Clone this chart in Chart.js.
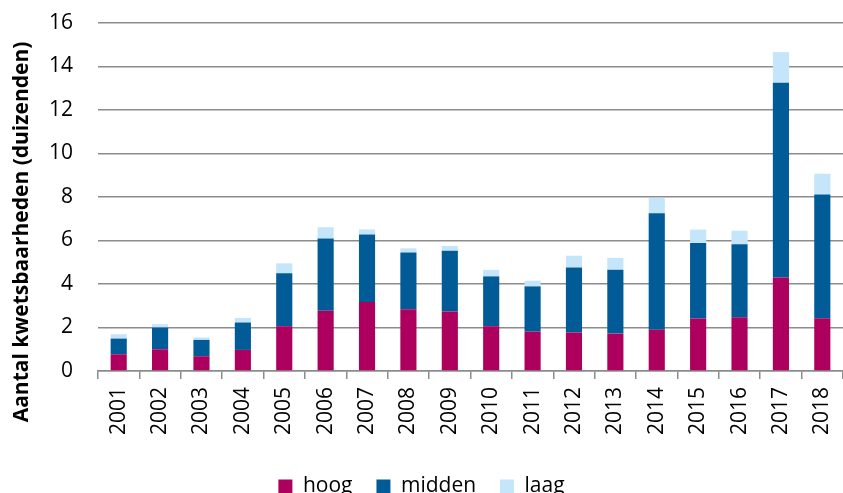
<!DOCTYPE html>
<html>
<head>
<meta charset="utf-8">
<script src="https://cdn.jsdelivr.net/npm/chart.js@4/dist/chart.umd.min.js"></script>
<style>
  html, body { margin: 0; padding: 0; background: #fff; }
  #wrap { width: 843px; height: 493px; }
</style>
</head>
<body>
<div id="wrap"><canvas id="myChart"></canvas></div>
<script>
// data (duizenden)
var years = ['2001','2002','2003','2004','2005','2006','2007','2008','2009',
             '2010','2011','2012','2013','2014','2015','2016','2017','2018'];
var hoog   = [0.77, 1.00, 0.68, 0.97, 2.06, 2.77, 3.17, 2.84, 2.73, 2.06, 1.81, 1.77, 1.72, 1.90, 2.41, 2.47, 4.30, 2.43];
var midden = [0.72, 1.00, 0.75, 1.26, 2.43, 3.32, 3.11, 2.61, 2.80, 2.29, 2.08, 2.99, 2.94, 5.35, 3.48, 3.36, 8.95, 5.68];
var laag   = [0.20, 0.15, 0.11, 0.21, 0.46, 0.52, 0.23, 0.19, 0.22, 0.30, 0.26, 0.54, 0.54, 0.70, 0.61, 0.62, 1.41, 0.96];
var yTicks = [0, 2, 4, 6, 8, 10, 12, 14, 16];
var yTitle = 'Aantal kwetsbaarheden (duizenden)';

var font = '"Open Sans", sans-serif';
var grey = '#8c8c8c';

// y title sits a bit lower than the axis centre in the original, so draw it by hand
var titlePlugin = {
    id: 'ytitle',
    afterDraw: function(c){
        var g = c.ctx;
        g.save();
        g.translate(22, 232);
        g.rotate(-Math.PI / 2);
        g.font = 'bold 21px ' + font;
        g.fillStyle = '#000';
        g.textAlign = 'center';
        g.textBaseline = 'middle';
        g.fillText(yTitle, 0, 0);
        g.restore();
    }
};

var ctx = document.getElementById('myChart');
var chart = new Chart(ctx, {
    type: 'bar',
    data: {
        labels: years,
        datasets: [
            { label: 'hoog',   data: hoog,   backgroundColor: '#ad005e' },
            { label: 'midden', data: midden, backgroundColor: '#005b96' },
            { label: 'laag',   data: laag,   backgroundColor: '#c4e5fa' }
        ]
    },
    plugins: [titlePlugin],
    options: {
        responsive: true,
        maintainAspectRatio: false,
        animation: false,
        categoryPercentage: 1,
        barPercentage: 0.39,
        layout: { padding: { top: 23, right: 0, left: 0, bottom: -14 } },
        plugins: {
            tooltip: { enabled: false },
            legend: {
                position: 'bottom',
                labels: {
                    boxWidth: 14, boxHeight: 14, padding: 24,
                    color: '#000',
                    font: { family: font, size: 21 }
                }
            }
        },
        scales: {
            x: {
                stacked: true,
                offset: true,
                grid: { display: true, drawOnChartArea: false, drawTicks: true, tickLength: 8, offset: true, color: grey, lineWidth: 1.5 },
                border: { display: true, color: grey, width: 1.5 },
                ticks: { color: '#000', minRotation: 90, maxRotation: 90, padding: 8, font: { family: font, size: 21 } },
                afterFit: function(scale){
                    scale.height = 81;
                    scale.paddingLeft = 0; scale.paddingRight = 0;
                    scale.paddingTop = 0; scale.paddingBottom = 0;
                }
            },
            y: {
                stacked: true,
                min: 0, max: 16,
                afterBuildTicks: function(scale){ scale.ticks = yTicks.map(function(v){ return { value: v }; }); },
                grid: { color: grey, lineWidth: 1.5, drawTicks: false },
                border: { display: false },
                ticks: { color: '#000', padding: 25, font: { family: font, size: 21 } },
                afterFit: function(scale){
                    scale.width = 98;
                    scale.paddingTop = 0; scale.paddingBottom = 0;
                }
            }
        }
    }
});
</script>
</body>
</html>
